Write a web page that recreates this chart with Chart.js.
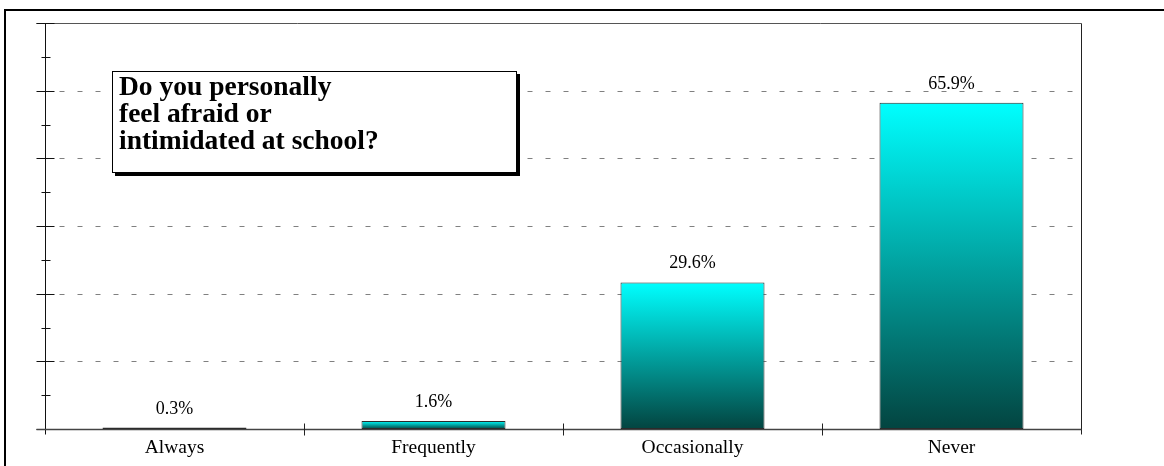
<!DOCTYPE html>
<html>
<head>
<meta charset="utf-8">
<script src="https://cdn.jsdelivr.net/npm/chart.js@4/dist/chart.umd.min.js"></script>
<style>
html,body{margin:0;padding:0;background:#fff;}
#wrap{position:relative;width:1164px;height:466px;overflow:hidden;background:#fff;}
#frame{position:absolute;left:4px;top:9px;width:1300px;height:600px;border-left:2px solid #000;border-top:2px solid #000;box-sizing:border-box;}
#c{position:absolute;left:0;top:0;}
#titlebox{position:absolute;left:112px;top:71px;width:405px;height:102px;box-sizing:border-box;border:1px solid #000;background:#fff;box-shadow:3px 3px 0 #000;
  font-family:"Liberation Serif","Times New Roman",serif;font-weight:bold;font-size:27.5px;line-height:27px;color:#000;padding:0 0 0 6px;white-space:pre;}
</style>
</head>
<body>
<div id="wrap">
  <div id="frame"></div>
  <canvas id="c" width="1164" height="466"></canvas>
  <div id="titlebox">Do you personally
feel afraid or
intimidated at school?</div>
</div>
<script>
const categories = ['Always', 'Frequently', 'Occasionally', 'Never'];
const percentages = [0.3, 1.6, 29.6, 65.9];
const valueLabels = ['0.3%', '1.6%', '29.6%', '65.9%'];
const axisMax = 82;
const majorDivisions = 6;

const SERIF = '"Liberation Serif", "Times New Roman", serif';

const axesPlugin = {
  id: 'axesPlugin',
  beforeDatasetsDraw(chart) {
    const ctx = chart.ctx;
    const y = chart.scales.y, x = chart.scales.x;
    const area = chart.chartArea;
    const left = Math.round(area.left) + 0.5;
    const right = Math.round(area.right) + 0.5;
    const top = Math.round(y.getPixelForValue(axisMax)) + 0.5;
    const bottom = Math.round(y.getPixelForValue(0)) + 0.5;
    const step = axisMax / majorDivisions;
    ctx.save();
    ctx.strokeStyle = '#808080';
    ctx.lineWidth = 1;
    ctx.setLineDash([5, 13]);
    ctx.lineDashOffset = -4;
    for (let k = 1; k < majorDivisions; k++) {
      const py = Math.round(y.getPixelForValue(k * step)) + 0.5;
      ctx.beginPath(); ctx.moveTo(left + 10, py); ctx.lineTo(right - 8, py); ctx.stroke();
    }
    ctx.setLineDash([]);
    ctx.strokeStyle = '#555';
    ctx.beginPath(); ctx.moveTo(left - 9, top); ctx.lineTo(right, top); ctx.stroke();
    ctx.strokeStyle = '#222';
    ctx.beginPath(); ctx.moveTo(right, top); ctx.lineTo(right, bottom + 5); ctx.stroke();
    ctx.strokeStyle = '#111';
    ctx.beginPath(); ctx.moveTo(left, top); ctx.lineTo(left, bottom + 5); ctx.stroke();
    for (let k = 0; k <= majorDivisions * 2; k++) {
      const py = Math.round(y.getPixelForValue(k * step / 2)) + 0.5;
      ctx.beginPath();
      if (k % 2 === 0) { ctx.moveTo(left - 9, py); ctx.lineTo(left + 9, py); }
      else { ctx.moveTo(left - 4, py); ctx.lineTo(left + 5, py); }
      ctx.stroke();
    }
    ctx.strokeStyle = '#444';
    ctx.lineWidth = 1.5;
    ctx.beginPath(); ctx.moveTo(left - 9, bottom); ctx.lineTo(right, bottom); ctx.stroke();
    ctx.lineWidth = 1;
    ctx.strokeStyle = '#222';
    for (let i = 1; i < categories.length; i++) {
      const px = Math.round(x.getPixelForValue(i - 0.5)) + 0.5;
      ctx.beginPath(); ctx.moveTo(px, bottom - 6); ctx.lineTo(px, bottom + 6); ctx.stroke();
    }
    ctx.restore();
  },
  afterDatasetsDraw(chart) {
    const ctx = chart.ctx;
    const meta = chart.getDatasetMeta(0);
    ctx.save();
    ctx.font = '18px ' + SERIF;
    ctx.fillStyle = '#000';
    ctx.textAlign = 'center';
    ctx.textBaseline = 'alphabetic';
    meta.data.forEach((bar, i) => {
      ctx.fillText(valueLabels[i], bar.x, bar.y - 14);
    });
    ctx.restore();
  }
};

new Chart(document.getElementById('c'), {
  type: 'bar',
  data: {
    labels: categories,
    datasets: [{
      data: percentages,
      backgroundColor: (c) => {
        const chart = c.chart;
        if (!chart.chartArea || c.type !== 'data') return '#00b0b0';
        const ys = chart.scales.y;
        const t = ys.getPixelForValue(c.raw), b = ys.getPixelForValue(0);
        const g = chart.ctx.createLinearGradient(0, t, 0, Math.max(b, t + 1));
        g.addColorStop(0, '#00ffff');
        g.addColorStop(1, '#034440');
        return g;
      },
      borderColor: '#2b2b2b',
      borderWidth: 1,
      borderSkipped: false,
      categoryPercentage: 1,
      barPercentage: 0.556
    }]
  },
  options: {
    responsive: false,
    animation: false,
    layout: { padding: { left: 45, top: 23, right: 83, bottom: 0 } },
    plugins: { legend: { display: false }, tooltip: { enabled: false }, title: { display: false } },
    scales: {
      x: {
        grid: { display: false, drawTicks: false },
        border: { display: false },
        ticks: { color: '#000', font: { family: SERIF, size: 19.5 }, padding: 7, maxRotation: 0 },
        afterFit: (s) => { s.height = 37; }
      },
      y: {
        display: false,
        min: 0,
        max: axisMax
      }
    }
  },
  plugins: [axesPlugin]
});
</script>
</body>
</html>
